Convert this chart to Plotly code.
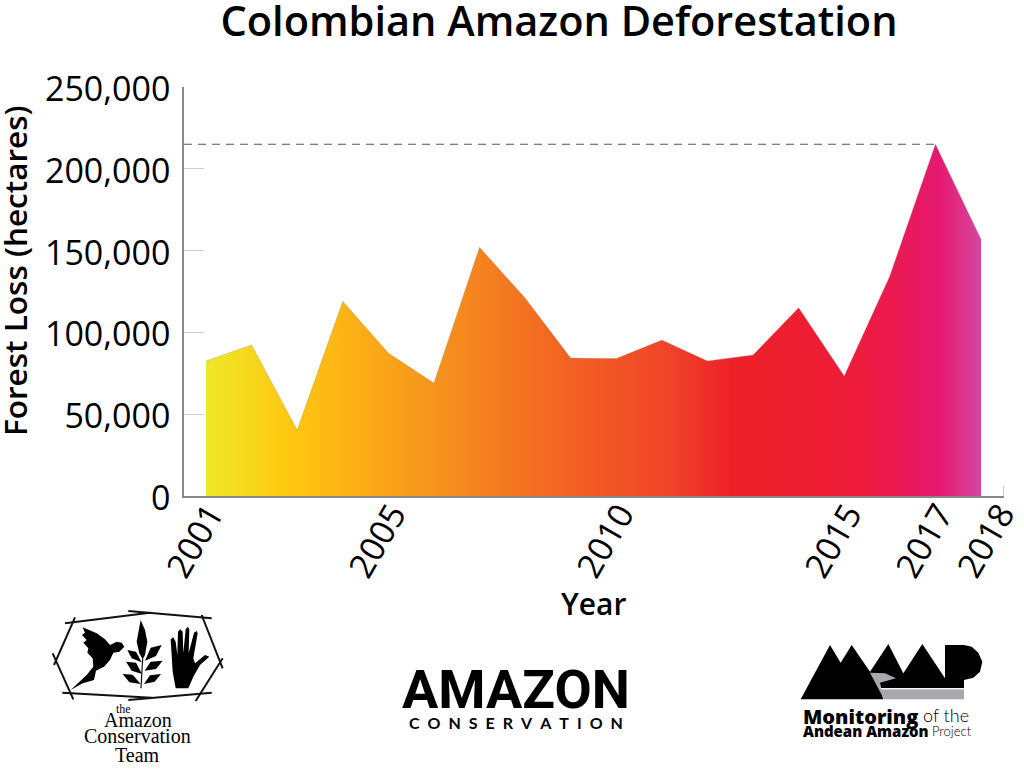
import plotly.graph_objects as go

years = list(range(2001, 2019))
forest_loss = [82500, 92300, 40300, 119000, 87400, 69000, 152000, 121000, 84300,
               84000, 95300, 82500, 86200, 115000, 73300, 134500, 215000, 157000]
peak_value = 215000
x_tick_values = [2001, 2005, 2010, 2015, 2017, 2018]
x_tick_labels = ["2001", "2005", "2010", "2015", "2017", "2018"]
y_tick_values = [0, 50000, 100000, 150000, 200000, 250000]
gradient = [[0.0, "#EDE829"], [0.11, "#FFC60F"], [0.30, "#F6921E"], [0.457, "#F26522"], [0.60, "#F0432A"],
            [0.68, "#EE2027"], [0.84, "#EE1C3A"], [0.945, "#E6186F"], [1.0, "#D6479F"]]

L, R, T, B = 184, 1004, 87, 496
X0 = 2001 - (206 - L) / 45.6
X1 = 2018 + (R - 981) / 45.6


def px(x, y):
    return (x - L) / (R - L), (B - y) / (B - T)


def path(points, close=True):
    parts = []
    for i, (x, y) in enumerate(points):
        a, b = px(x, y)
        parts.append(f"{'M' if i == 0 else 'L'} {a:.5f} {b:.5f}")
    return " ".join(parts) + (" Z" if close else "")


def z5(pts):
    return [(30 + x / 3, 600 + y / 3) for x, y in pts]


def z7(pts):
    return [(790 + x / 3, 630 + y / 3) for x, y in pts]


def poly(points, color="#000000"):
    return dict(type="path", xref="paper", yref="paper", path=path(points),
                fillcolor=color, line=dict(width=0), layer="above")


def stick(points, width=2, color="#111111"):
    return dict(type="path", xref="paper", yref="paper", path=path(points, False),
                line=dict(color=color, width=width), layer="above")


shapes = [dict(type="path", xref="paper", yref="paper", path=path([(1003.5, 486), (1003.5, 496)], False),
               line=dict(color="#cccccc", width=1))]

for seg in [[(105, 70), (360, 38)], [(295, 33), (545, 55)], [(515, 45), (578, 205)], [(578, 175), (497, 303)],
            [(545, 278), (295, 300)], [(97, 278), (365, 293)], [(68, 160), (130, 298)], [(135, 52), (72, 195)]]:
    shapes.append(stick(z5(seg)))

bird = [(283, 140), (275, 128), (260, 125), (240, 135), (225, 118), (200, 100), (158, 82), (165, 98), (156, 105),
        (170, 120), (160, 128), (175, 145), (172, 158), (188, 175), (190, 200), (170, 225), (122, 270),
        (158, 250), (192, 240), (198, 212), (222, 200), (240, 180), (250, 158), (268, 155)]
hand = [(437, 265), (428, 215), (422, 118), (430, 112), (437, 125), (442, 165), (444, 95), (451, 88), (458, 95),
        (460, 160), (467, 88), (473, 80), (478, 88), (476, 160), (492, 98), (500, 93), (503, 100), (490, 175),
        (495, 190), (525, 165), (538, 170), (510, 195), (490, 230), (475, 265)]
top_leaf = [(332, 60), (345, 90), (352, 125), (345, 165), (338, 178), (328, 160), (320, 125)]
leaves = [[(292, 150), (318, 155), (335, 187), (305, 175)], [(395, 135), (362, 143), (345, 182), (378, 168)],
          [(288, 185), (318, 188), (336, 222), (305, 212)], [(398, 182), (362, 185), (344, 212), (378, 207)],
          [(278, 222), (308, 224), (332, 252), (298, 247)], [(393, 222), (360, 226), (342, 252), (374, 245)]]
for shape_pts in [bird, hand, top_leaf] + leaves:
    shapes.append(poly(z5(shape_pts)))
shapes.append(stick(z5([(338, 175), (333, 265)]), 1.2))

maap_black = [(32, 208), (120, 45), (152, 98), (185, 45), (240, 125), (295, 42), (340, 130), (397, 42), (465, 145),
              (465, 45), (522, 45), (545, 50), (565, 68), (577, 95), (570, 125), (550, 143), (522, 150), (522, 175),
              (270, 175), (280, 208)]
river = [(240, 128), (285, 130), (318, 145), (270, 158), (275, 178), (522, 178), (522, 208), (282, 208)]
shapes.append(poly(z7(maap_black)))
shapes.append(poly(z7(river), "#A7A9AC"))
shapes.append(stick(z7([(272, 176), (522, 176)]), 1, "#ffffff"))

fig = go.Figure()
fig.add_trace(go.Scatter(x=years, y=forest_loss, mode="lines", fill="tozeroy",
                         line=dict(color="rgba(140,140,140,0.6)", width=0.5),
                         fillgradient=dict(type="horizontal", colorscale=gradient),
                         showlegend=False, hoverinfo="x+y"))
fig.add_trace(go.Scatter(x=[X0, 2017], y=[peak_value, peak_value], mode="lines",
                         line=dict(color="#555555", width=1, dash="8px,6px"),
                         showlegend=False, hoverinfo="skip"))

SANS = "Open Sans"
SERIF = "Liberation Serif"


def note(text, x, y, size, family=SANS, weight=400, color="#000000", anchor="center", angle=0):
    a, b = px(x, y)
    return dict(text=text, x=a, y=b, xref="paper", yref="paper", showarrow=False, xanchor=anchor, yanchor="middle",
                textangle=angle, font=dict(family=family, size=size, weight=weight, color=color))


annotations = [
    note("Forest Loss (hectares)", 14, 271, 31.5, SANS, 600, angle=-90),
    note("Year", 593, 603, 30, SANS, 600),
    note(x_tick_labels[-1], 985, 540, 34, SANS, 400, angle=-60),
    note("the", 123, 709, 12, SERIF),
    note("Amazon", 138, 720, 20, SERIF),
    note("Conservation", 137, 736, 20, SERIF),
    note("Team", 137, 755, 20, SERIF),
    note("AMAZON", 516, 689, 54, "Roboto", 700),
    note("C\u2002O\u2002N\u2002S\u2002E\u2002R\u2002V\u2002A\u2002T\u2002I\u2002O\u2002N", 516, 722, 16, "Lato", 700),
    note("Monitoring", 801, 716, 20, SANS, 800, anchor="left"),
    note("of the", 921, 715, 18, "Lato", 300, anchor="left"),
    note("Andean Amazon", 801, 731, 15, SANS, 800, anchor="left"),
    note("Project", 930, 731, 13, "Lato", 300, anchor="left"),
]

fig.update_layout(
    width=1024, height=771, autosize=False,
    margin=dict(l=L, r=1024 - R, t=T, b=771 - B, pad=0),
    paper_bgcolor="#ffffff", plot_bgcolor="#ffffff",
    font=dict(family=SANS, color="#000000"),
    title=dict(text="Colombian Amazon Deforestation", x=559 / 1024, xanchor="center", y=1 - 21 / 771, yanchor="middle",
               font=dict(family=SANS, size=41.5, weight=600, color="#000000")),
    xaxis=dict(range=[X0, X1], tickmode="array",
               tickvals=[v + 0.09 for v in x_tick_values[:-1]],
               ticktext=x_tick_labels[:-1], tickangle=-60, ticklabelstandoff=-17,
               ticks="", showgrid=False, zeroline=False, showline=True, linecolor="#888888", linewidth=1.5,
               tickfont=dict(size=34)),
    yaxis=dict(range=[0, 250000], tickvals=y_tick_values, tickformat=",d", ticks="inside", ticklen=20, tickwidth=1,
               tickcolor="#cccccc", showgrid=False, zeroline=False, showline=True, linecolor="#888888", linewidth=1.5,
               ticklabelstandoff=5, ticklabelshift=2, tickfont=dict(size=34)),
    shapes=shapes, annotations=annotations,
)

fig.write_html("out.html", post_script="document.body.style.margin='0';", config={"displayModeBar": False})
